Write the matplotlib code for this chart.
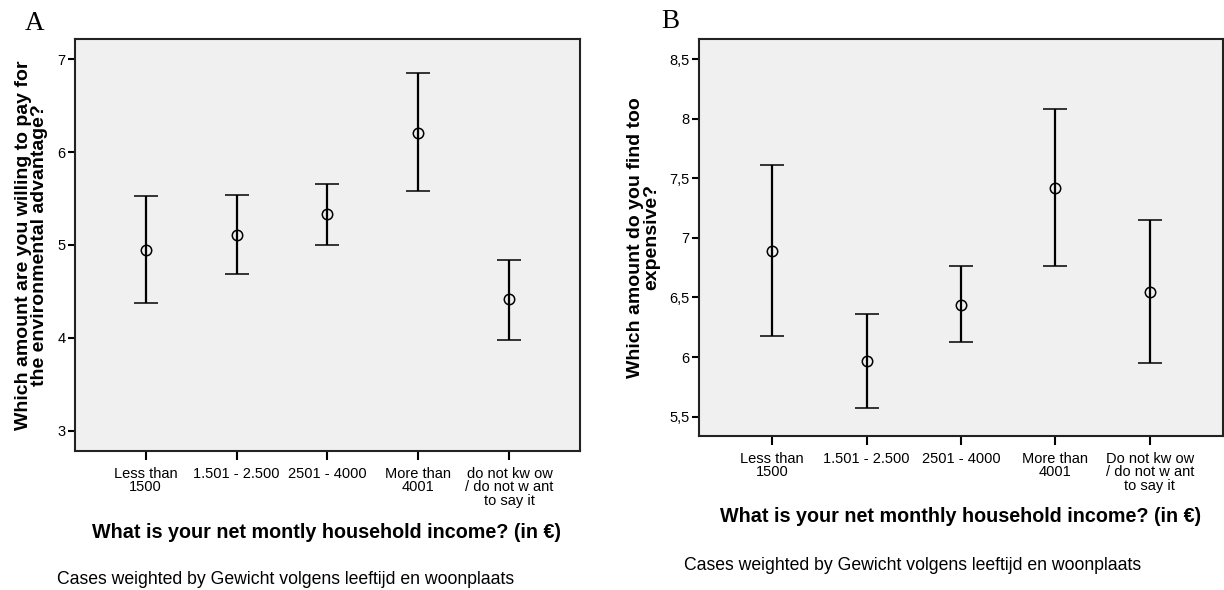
import matplotlib
matplotlib.use("Agg")
import matplotlib.pyplot as plt
import numpy as np
from matplotlib.ticker import FuncFormatter

# Income groups (x axis) for both panels
categories_a = ["Less than\n1500", "1.501 - 2.500", "2501 - 4000", "More than\n4001",
                "do not kw ow\n/ do not w ant\nto say it"]
categories_b = ["Less than\n1500", "1.501 - 2.500", "2501 - 4000", "More than\n4001",
                "Do not kw ow\n/ do not w ant\nto say it"]

# Panel A: amount willing to pay for the environmental advantage (mean and 95% CI)
means_a = [4.95, 5.11, 5.33, 6.21, 4.42]
lower_a = [4.37, 4.69, 5.00, 5.58, 3.98]
upper_a = [5.53, 5.54, 5.66, 6.85, 4.84]
yticks_a = [3, 4, 5, 6, 7]

# Panel B: amount found too expensive (mean and 95% CI)
means_b = [6.89, 5.97, 6.44, 7.42, 6.55]
lower_b = [6.18, 5.57, 6.13, 6.76, 5.95]
upper_b = [7.61, 6.36, 6.76, 8.08, 7.15]
yticks_b = [5.5, 6.0, 6.5, 7.0, 7.5, 8.0, 8.5]

caption = "Cases weighted by Gewicht volgens leeftijd en woonplaats"

SANS = "Liberation Sans"
SERIF = "Liberation Serif"
W, H = 1224, 590
fig = plt.figure(figsize=(W / 100, H / 100), dpi=100)


def px_axes(left, top, right, bottom):
    return fig.add_axes([left / W, 1 - bottom / H, (right - left) / W, (bottom - top) / H])


def comma(v, pos):
    return ("%g" % v).replace(".", ",")


def draw_panel(ax, cats, means, lower, upper, yticks, ylim):
    x = np.arange(len(cats))
    m = np.array(means)
    err = [m - np.array(lower), np.array(upper) - m]
    ax.set_facecolor("#f0f0f0")
    ax.errorbar(x, m, yerr=err, fmt="o", mfc="none", mec="black", mew=1.1, ms=7.5,
                ecolor="black", elinewidth=1.6, capsize=8.5, capthick=1.6, zorder=3)
    ax.set_xlim(-0.775, len(cats) - 1 + 0.775)
    ax.set_ylim(*ylim)
    ax.set_xticks(x)
    ax.set_xticklabels(cats, fontfamily=SANS, fontsize=10.5, linespacing=0.95)
    ax.set_yticks(yticks)
    ax.yaxis.set_major_formatter(FuncFormatter(comma))
    for lab in ax.get_yticklabels():
        lab.set_fontfamily(SANS)
        lab.set_fontsize(10.5)
    ax.tick_params(axis="x", direction="out", length=6.5, width=1.5, color="black", pad=4.8)
    ax.tick_params(axis="y", direction="out", length=5, width=1.5, color="black", pad=2)
    for s in ax.spines.values():
        s.set_linewidth(1.5)
        s.set_color("#222222")


ax_a = px_axes(75, 39, 580, 451)
draw_panel(ax_a, categories_a, means_a, lower_a, upper_a, yticks_a, (2.78, 7.22))
ax_b = px_axes(699, 39, 1223, 436)
draw_panel(ax_b, categories_b, means_b, lower_b, upper_b, yticks_b, (5.338, 8.668))

# Axis titles
fig.text(31.5 / W, 1 - 245 / H, "Which amount are you willing to pay for\nthe environmental advantage?",
         rotation=90, ha="center", va="center", fontfamily=SANS, fontweight="bold",
         fontsize=14, linespacing=0.95)
fig.text(644 / W, 1 - 237.5 / H, "Which amount do you find too\nexpensive?",
         rotation=90, ha="center", va="center", fontfamily=SANS, fontweight="bold",
         fontsize=14, linespacing=0.95)
fig.text(327 / W, 1 - 532 / H, "What is your net montly household income? (in €)",
         ha="center", va="center", fontfamily=SANS, fontweight="bold", fontsize=14.2)
fig.text(961 / W, 1 - 517 / H, "What is your net monthly household income? (in €)",
         ha="center", va="center", fontfamily=SANS, fontweight="bold", fontsize=14.2)

# Weighting notes
fig.text(57 / W, 1 - 580 / H, caption, ha="left", va="center", fontfamily=SANS, fontsize=12.7)
fig.text(684 / W, 1 - 565 / H, caption, ha="left", va="center", fontfamily=SANS, fontsize=12.7)

# Panel letters
fig.text(25 / W, 1 - 23 / H, "A", ha="left", va="center", fontfamily=SERIF, fontsize=19.5)
fig.text(661 / W, 1 - 21.5 / H, "B", ha="left", va="center", fontfamily=SERIF, fontsize=19.5)

fig.savefig("out.png", dpi=100, facecolor="white")
